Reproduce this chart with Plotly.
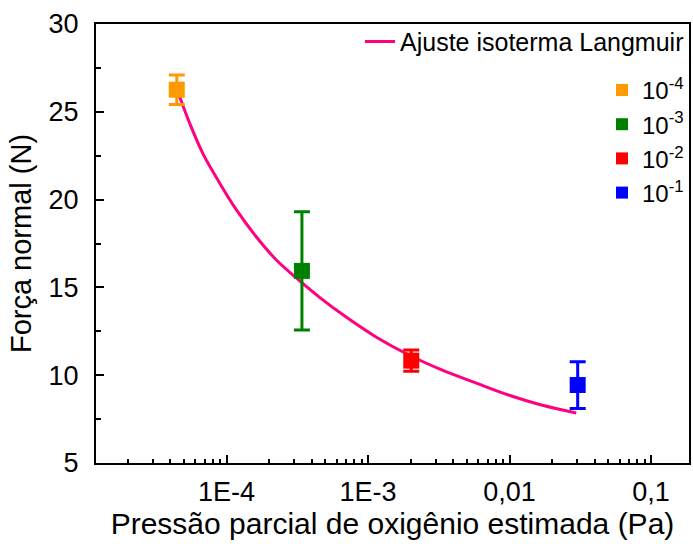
import plotly.graph_objects as go

# Measured normal force at each estimated oxygen partial pressure
pressao = [4.45e-5, 3.41e-4, 2.02e-3, 3.03e-2]
forca = [26.26, 15.94, 10.83, 9.44]
erro = [0.84, 3.37, 0.6, 1.33]
rotulos = ["10<sup>-4</sup>", "10<sup>-3</sup>", "10<sup>-2</sup>", "10<sup>-1</sup>"]
cores = ["#FF9900", "#008000", "#FF0000", "#0000FF"]

# Langmuir isotherm fit curve
ajuste_p = [4.67e-5, 5.48e-5, 6.78e-5, 8.93e-5, 1.175e-4, 1.626e-4, 2.25e-4,
            3.11e-4, 4.52e-4, 7.0e-4, 1.138e-3, 1.945e-3, 3.32e-3, 5.77e-3,
            9.84e-3, 0.0168, 0.0296]
ajuste_f = [25.84, 24.36, 22.65, 20.95, 19.41, 17.87, 16.56, 15.54, 14.45,
            13.31, 12.18, 11.15, 10.30, 9.56, 8.87, 8.30, 7.85]

# Axis ticks
x_ticks = [1e-4, 1e-3, 1e-2, 1e-1]
x_ticktext = ["1E-4", "1E-3", "0,01", "0,1"]
x_minor = [m * 10 ** e for e in range(-5, 0) for m in range(2, 10)]

FONT = "Liberation Sans, Arial, sans-serif"

fig = go.Figure()

fig.add_trace(go.Scatter(
    x=ajuste_p, y=ajuste_f, mode="lines", line_shape="spline",
    line=dict(color="#FF0080", width=3),
    name="Ajuste isoterma Langmuir", legend="legend", showlegend=True,
))

for p, f, e, nome, cor in zip(pressao, forca, erro, rotulos, cores):
    fig.add_trace(go.Scatter(
        x=[p], y=[f], mode="markers", name=nome, legend="legend2",
        showlegend=True,
        marker=dict(symbol="square", size=16, color=cor),
        error_y=dict(type="data", array=[e], visible=True,
                     color=cor, thickness=3, width=8),
    ))

fig.update_layout(
    width=693, height=544,
    margin=dict(l=96, r=2, t=24, b=81),
    plot_bgcolor="white", paper_bgcolor="white",
    font=dict(family=FONT, color="black", size=27),
    showlegend=True,
    legend=dict(x=1.0, y=1.012, xanchor="right", yanchor="top",
                bgcolor="rgba(0,0,0,0)", font=dict(size=25),
                itemwidth=30, borderwidth=0),
    legend2=dict(x=1.0, y=0.90, xanchor="right", yanchor="top",
                 bgcolor="rgba(0,0,0,0)", font=dict(size=24),
                 tracegroupgap=0, itemsizing="constant"),
)

fig.update_xaxes(
    type="log", range=[-4.9225, -0.732],
    showline=True, linecolor="black", linewidth=2, mirror=True,
    showgrid=False, zeroline=False,
    tickmode="array", tickvals=x_ticks, ticktext=x_ticktext,
    ticks="inside", ticklen=8, tickwidth=2, tickcolor="black",
    tickfont=dict(size=27), ticklabelstandoff=4,
    minor=dict(ticks="inside", ticklen=4, tickwidth=1.5, tickcolor="black",
               tickmode="array", tickvals=x_minor, showgrid=False),
    title=dict(text="Pressão parcial de oxigênio estimada (Pa)",
               font=dict(size=30), standoff=6),
)

fig.update_yaxes(
    range=[5, 30],
    showline=True, linecolor="black", linewidth=2, mirror=True,
    showgrid=False, zeroline=False,
    tickmode="linear", tick0=5, dtick=5,
    ticks="inside", ticklen=8, tickwidth=2, tickcolor="black",
    tickfont=dict(size=27), ticklabelstandoff=10,
    minor=dict(ticks="inside", ticklen=5, tickwidth=2, tickcolor="black",
               dtick=2.5, tick0=5, showgrid=False),
    title=dict(text="Força normal (N)", font=dict(size=29), standoff=8),
)

fig.write_html("out.html")
